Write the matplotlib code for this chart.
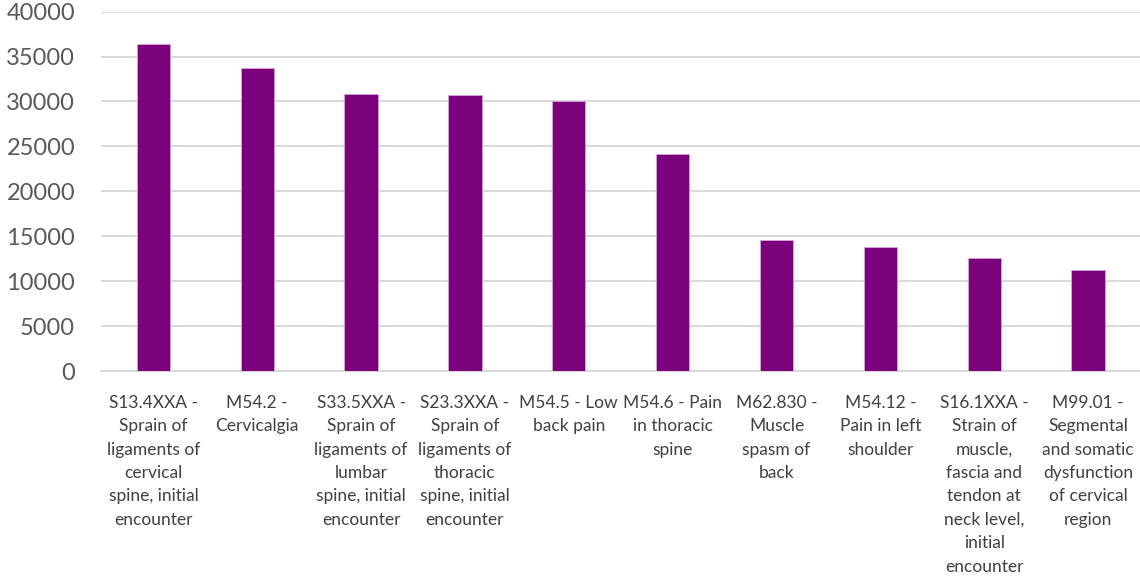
import matplotlib
matplotlib.use("Agg")
import matplotlib.pyplot as plt
import numpy as np

plt.rcParams['font.family'] = ['Lato', 'DejaVu Sans']

# Diagnosis labels (wrapped as in the original chart)
labels = [
    "S13.4XXA -\nSprain of\nligaments of\ncervical\nspine, initial\nencounter",
    "M54.2 -\nCervicalgia",
    "S33.5XXA -\nSprain of\nligaments of\nlumbar\nspine, initial\nencounter",
    "S23.3XXA -\nSprain of\nligaments of\nthoracic\nspine, initial\nencounter",
    "M54.5 - Low\nback pain",
    "M54.6 - Pain\nin thoracic\nspine",
    "M62.830 -\nMuscle\nspasm of\nback",
    "M54.12 -\nPain in left\nshoulder",
    "S16.1XXA -\nStrain of\nmuscle,\nfascia and\ntendon at\nneck level,\ninitial\nencounter",
    "M99.01 -\nSegmental\nand somatic\ndysfunction\nof cervical\nregion",
]
counts = [36400, 33700, 30800, 30700, 30050, 24200, 14600, 13800, 12600, 11300]
yticks = [0, 5000, 10000, 15000, 20000, 25000, 30000, 35000, 40000]

fig = plt.figure(figsize=(11.4, 5.79), dpi=100)
ax = fig.add_axes([0.089, 0.359, 0.911, 0.621])

x = np.arange(len(labels))
ax.bar(x, counts, width=0.32, color='#7b007b', edgecolor='#d9a6d9', linewidth=0.6, zorder=3)

ax.set_ylim(0, 40000)
ax.set_xlim(-0.5, len(labels) - 0.5)
ax.set_yticks(yticks)
ax.set_yticklabels([str(v) for v in yticks], fontsize=17, color='#595959')
ax.set_xticks(x)
ax.set_xticklabels(labels, fontsize=12.5, color='#404040', linespacing=1.57, va='top')
ax.tick_params(axis='both', length=0)
ax.tick_params(axis='x', pad=17)
ax.tick_params(axis='y', pad=19)

ax.grid(axis='y', color='#d9d9d9', linewidth=1.4, zorder=0)
for s in ['top', 'right', 'left']:
    ax.spines[s].set_visible(False)
ax.spines['bottom'].set_color('#d9d9d9')
ax.spines['bottom'].set_linewidth(1.4)

fig.savefig("out.png", dpi=100)
